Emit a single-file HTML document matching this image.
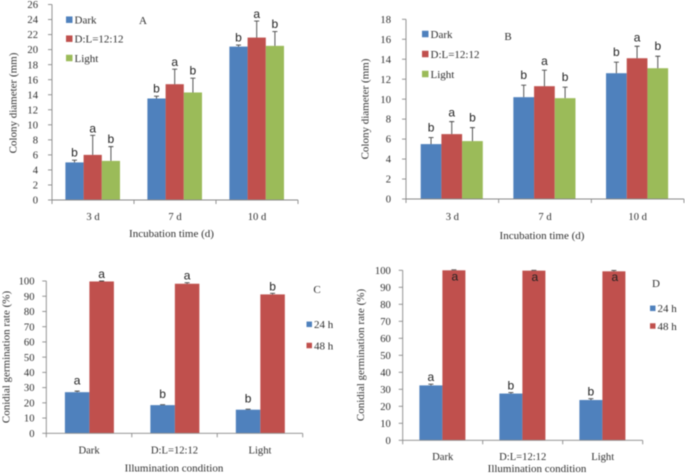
<!DOCTYPE html>
<html lang="en">
<head>
<meta charset="utf-8">
<title>Colony diameter and conidial germination charts</title>
<style>
html,body{margin:0;padding:0;background:#fff;width:685px;height:473px;overflow:hidden}
svg{display:block;filter:blur(0.45px)}
text{font-family:"Liberation Serif",serif;fill:#2e2e2e}
</style>
</head>
<body>
<svg id="figure" width="685" height="473" viewBox="0 0 685 473" xmlns="http://www.w3.org/2000/svg"></svg>
<script>
// Panel A data
const aCategories = ['3 d', '7 d', '10 d'];
const aTicks = [0, 2, 4, 6, 8, 10, 12, 14, 16, 18, 20, 22, 24, 26];
const aDark = [5, 13.5, 20.4];
const aDarkErr = [0.3, 0.3, 0.2];
const aMixed = [6, 15.4, 21.6];
const aMixedErr = [2.6, 2, 2.2];
const aLight = [5.2, 14.3, 20.5];
const aLightErr = [1.9, 1.9, 1.9];
const aDarkLetters = ['b', 'b', 'b'];
const aMixedLetters = ['a', 'a', 'a'];
const aLightLetters = ['b', 'b', 'b'];

// Panel B data
const bCategories = ['3 d', '7 d', '10 d'];
const bTicks = [0, 2, 4, 6, 8, 10, 12, 14, 16, 18];
const bDark = [5.5, 10.2, 12.6];
const bDarkErr = [0.65, 1.2, 1.1];
const bMixed = [6.5, 11.3, 14.1];
const bMixedErr = [1.25, 1.6, 1.2];
const bLight = [5.8, 10.1, 13.1];
const bLightErr = [1.35, 1.1, 1.2];
const bDarkLetters = ['b', 'b', 'b'];
const bMixedLetters = ['a', 'a', 'a'];
const bLightLetters = ['b', 'b', 'b'];

// Panel C data
const cCategories = ['Dark', 'D:L=12:12', 'Light'];
const cTicks = [0, 10, 20, 30, 40, 50, 60, 70, 80, 90, 100];
const c24h = [27, 18.5, 15.5];
const c24hErr = [0.7, 0.3, 0.3];
const c48h = [99.7, 98.2, 91.2];
const c48hErr = [0.3, 0.7, 0.7];
const c24hLetters = ['a', 'b', 'b'];
const c48hLetters = ['a', 'a', 'b'];

// Panel D data
const dCategories = ['Dark', 'D:L=12:12', 'Light'];
const dTicks = [0, 10, 20, 30, 40, 50, 60, 70, 80, 90, 100];
const d24h = [32.3, 27.5, 23.7];
const d24hErr = [0.7, 0.6, 0.8];
const d48h = [100, 99.8, 99.4];
const d48hErr = [0.3, 0.2, 0.5];
const d24hLetters = ['a', 'b', 'b'];
const d48hLetters = ['a', 'a', 'a'];

const BLUE = '#4f81bd', RED = '#c0504d', GREEN = '#9bbb59';
const NS = 'http://www.w3.org/2000/svg';
const root = document.getElementById('figure');

function make(parent, tag, attrs, content) {
  const el = document.createElementNS(NS, tag);
  for (const k in attrs) el.setAttribute(k, attrs[k]);
  if (content !== undefined) el.textContent = content;
  parent.appendChild(el);
  return el;
}

function drawPanel(p) {
  const group = make(root, 'g', {});
  
  

  const maxTick = p.ticks[p.ticks.length - 1];
  const yScale = v => p.y0 - (v / maxTick) * (p.y0 - p.yTop);
  const catW = (p.xRight - p.x0) / p.categories.length;
  const xCat = i => p.x0 + catW * i;

  // bars, error bars and significance letters
  p.series.forEach((s, si) => {
    s.values.forEach((v, i) => {
      const bx = xCat(i) + p.offset + si * p.barW;
      const top = yScale(v);
      const bar = make(group, 'rect', { x: bx, y: top, width: p.barW, height: p.y0 - top, fill: s.color });
      
      

      const cx = bx + p.barW / 2;
      const errTop = yScale(v + s.errors[i]);
      const err = make(group, 'path', {
        d: 'M' + cx + ' ' + top + 'V' + errTop + 'M' + (cx - 2.5) + ' ' + errTop + 'H' + (cx + 2.5),
        stroke: '#444', 'stroke-width': 0.9, fill: 'none'
      });
      
      

      const letter = make(group, 'text', {
        x: cx + (s.letterDx || 0), y: errTop - s.letterGap, 'text-anchor': 'middle',
        'font-size': 12, style: 'font-family:"Liberation Sans",sans-serif;fill:#222'
      }, s.letters[i]);
      
      
    });
  });

  // axes
  const yAxis = make(group, 'line', { x1: p.x0, x2: p.x0, y1: p.yTop, y2: p.y0, stroke: '#8a8a8a', 'stroke-width': 0.9 });
  
  
  const xAxis = make(group, 'line', { x1: p.x0, x2: p.xRight, y1: p.y0, y2: p.y0, stroke: '#8a8a8a', 'stroke-width': 0.9 });
  
  

  p.ticks.forEach(t => {
    const y = yScale(t);
    const mark = make(group, 'line', { x1: p.x0 - 4, x2: p.x0, y1: y, y2: y, stroke: '#8a8a8a', 'stroke-width': 0.9 });
    
    
    const label = make(group, 'text', { x: p.tickRight, y: y + 3.6, 'text-anchor': 'end', 'font-size': 10.6 }, t);
    
    
  });

  for (let i = 0; i <= p.categories.length; i++) {
    const mark = make(group, 'line', { x1: xCat(i), x2: xCat(i), y1: p.y0, y2: p.y0 + 4, stroke: '#8a8a8a', 'stroke-width': 0.9 });
    
    
  }
  p.categories.forEach((c, i) => {
    const label = make(group, 'text', { x: xCat(i) + catW / 2, y: p.catY, 'text-anchor': 'middle', 'font-size': 10.6 }, c);
    
    
  });

  // titles
  const xt = make(group, 'text', { x: p.xTitleX, y: p.xTitleY, 'text-anchor': 'middle', 'font-size': 11 }, p.xTitle);
  
  
  const yt = make(group, 'text', {
    transform: 'translate(' + p.yTitleX + ' ' + p.yTitleY + ') rotate(-90)', 'text-anchor': 'middle', 'font-size': 11
  }, p.yTitle);
  
  

  // panel letter
  const tag = make(group, 'text', { x: p.tagX, y: p.tagY, 'text-anchor': 'middle', 'font-size': 11 }, p.tag);
  
  

  // legend
  p.series.forEach((s, si) => {
    const cy = p.legendY[si];
    const sw = make(group, 'rect', { x: p.legendX, y: cy - p.swatch / 2, width: p.swatch, height: p.swatch, fill: s.color });
    
    
    const lt = make(group, 'text', { x: p.legendX + p.swatch + 2, y: cy + 3.8, 'font-size': 11 }, s.name);
    
    
  });
}

drawPanel({
  id: 'a', tag: 'A', tagX: 143, tagY: 24,
  categories: aCategories, ticks: aTicks,
  x0: 52, xRight: 298, y0: 200, yTop: 4.5, offset: 13.4, barW: 18.2,
  tickRight: 38, catY: 220,
  xTitle: 'Incubation time (d)', xTitleX: 171.5, xTitleY: 237,
  yTitle: 'Colony diameter (mm)', yTitleX: 16.5, yTitleY: 103,
  legendX: 66, legendY: [19.7, 38.7, 58], swatch: 6.5,
  series: [
    { key: 'dark', name: 'Dark', color: BLUE, values: aDark, errors: aDarkErr, letters: aDarkLetters, letterGap: 3.5 },
    { key: 'mixed', name: 'D:L=12:12', color: RED, values: aMixed, errors: aMixedErr, letters: aMixedLetters, letterGap: 3 },
    { key: 'light', name: 'Light', color: GREEN, values: aLight, errors: aLightErr, letters: aLightLetters, letterGap: 3.5 }
  ]
});

drawPanel({
  id: 'b', tag: 'B', tagX: 508, tagY: 40,
  categories: bCategories, ticks: bTicks,
  x0: 406, xRight: 684, y0: 199, yTop: 19.3, offset: 14.7, barW: 20.7,
  tickRight: 391, catY: 220,
  xTitle: 'Incubation time (d)', xTitleX: 542, xTitleY: 239,
  yTitle: 'Colony diameter (mm)', yTitleX: 368.5, yTitleY: 109,
  legendX: 422, legendY: [34, 54, 74], swatch: 6.5,
  series: [
    { key: 'dark', name: 'Dark', color: BLUE, values: bDark, errors: bDarkErr, letters: bDarkLetters, letterGap: 6 },
    { key: 'mixed', name: 'D:L=12:12', color: RED, values: bMixed, errors: bMixedErr, letters: bMixedLetters, letterGap: 5 },
    { key: 'light', name: 'Light', color: GREEN, values: bLight, errors: bLightErr, letters: bLightLetters, letterGap: 6 }
  ]
});

drawPanel({
  id: 'c', tag: 'C', tagX: 317, tagY: 293,
  categories: cCategories, ticks: cTicks,
  x0: 46.3, xRight: 302.7, y0: 433.3, yTop: 281, offset: 18.6, barW: 24.5,
  tickRight: 34.5, catY: 453.5,
  xTitle: 'Illumination condition', xTitleX: 174, xTitleY: 471.5,
  yTitle: 'Conidial germination rate (%)', yTitleX: 9.5, yTitleY: 357,
  legendX: 306.5, legendY: [324.3, 345.5], swatch: 5.5,
  series: [
    { key: '24h', name: '24 h', color: BLUE, values: c24h, errors: c24hErr, letters: c24hLetters, letterGap: 6.5 },
    { key: '48h', name: '48 h', color: RED, values: c48h, errors: c48hErr, letters: c48hLetters, letterGap: 3 }
  ]
});

drawPanel({
  id: 'd', tag: 'D', tagX: 656, tagY: 287,
  categories: dCategories, ticks: dTicks,
  x0: 402.7, xRight: 642.7, y0: 440.3, yTop: 270.3, offset: 16.7, barW: 23,
  tickRight: 390.8, catY: 460,
  xTitle: 'Illumination condition', xTitleX: 537, xTitleY: 472,
  yTitle: 'Conidial germination rate (%)', yTitleX: 364, yTitleY: 355,
  legendX: 650, legendY: [308.3, 326], swatch: 5.5,
  series: [
    { key: '24h', name: '24 h', color: BLUE, values: d24h, errors: d24hErr, letters: d24hLetters, letterGap: 3 },
    { key: '48h', name: '48 h', color: RED, values: d48h, errors: d48hErr, letters: d48hLetters, letterGap: -10.5, letterDx: 1 }
  ]
});
</script>
</body>
</html>
